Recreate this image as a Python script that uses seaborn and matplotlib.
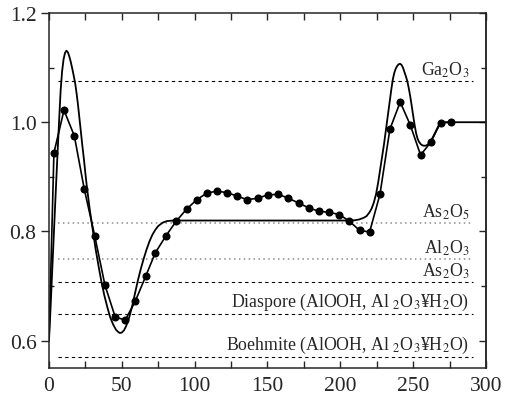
import numpy as np
import pandas as pd
import matplotlib
matplotlib.use('Agg')
import matplotlib.pyplot as plt
from matplotlib.ticker import MultipleLocator
import seaborn as sns

# measured points (dots)
x_pts = [0, 3.4, 10.3, 17.4, 24.2, 31.4, 38.4, 45.5, 52.4, 59.2, 66.4, 73.0, 80.3, 87.4,
         94.5, 101.4, 108.2, 115.3, 122.2, 129.0, 136.1, 143.2, 150.3, 157.4, 164.2,
         171.4, 178.4, 185.3, 192.2, 199.3, 206.1, 213.2, 220.1, 227.2, 234.0, 241.1,
         248.0, 255.1, 262.0, 268.8, 275.9]
y_pts = [0.60, 0.944, 1.022, 0.975, 0.878, 0.792, 0.702, 0.643, 0.638, 0.672, 0.718, 0.761,
         0.792, 0.819, 0.841, 0.858, 0.870, 0.874, 0.871, 0.865, 0.858, 0.861, 0.867,
         0.868, 0.861, 0.852, 0.843, 0.837, 0.835, 0.831, 0.819, 0.802, 0.799, 0.868,
         0.987, 1.037, 0.995, 0.940, 0.963, 0.999, 1.000]

# fitted curve
x_fit = [0, 1, 2, 3, 4, 5, 6, 7, 8, 9, 10, 11, 12, 13, 14, 15, 16, 17, 18, 19, 20, 21,
         22, 23, 24, 25, 26, 28, 30, 32, 34, 36, 38, 40, 42, 44, 46, 47.5, 48.7, 50,
         51.5, 53, 55, 57, 59, 61, 63, 65, 67, 69, 71, 73, 75, 78, 81, 85,
         120, 160, 205, 210, 213, 216, 218, 220, 221.5, 223, 224.5, 226, 228, 230,
         232, 234, 235, 236, 237, 238, 239, 240, 241, 242, 243, 244, 245, 246, 247,
         248, 249, 250, 251, 252, 253, 254, 255.5, 257, 258.5, 260, 262, 264, 266,
         267.5, 269, 271, 300]
y_fit = [0.600, 0.655, 0.715, 0.775, 0.835, 0.893, 0.950, 1.005, 1.058, 1.093, 1.115,
         1.127, 1.131, 1.128, 1.120, 1.110, 1.098, 1.085, 1.071, 1.052, 1.030, 1.005,
         0.980, 0.955, 0.932, 0.906, 0.882, 0.840, 0.804, 0.768, 0.737, 0.708, 0.683,
         0.662, 0.643, 0.630, 0.620, 0.616, 0.614, 0.615, 0.619, 0.627, 0.642, 0.662,
         0.686, 0.710, 0.731, 0.750, 0.767, 0.782, 0.794, 0.803, 0.810, 0.816, 0.819,
         0.820, 0.820, 0.820, 0.820, 0.8205, 0.822, 0.825, 0.828, 0.835, 0.842, 0.853,
         0.868, 0.890, 0.925, 0.960, 1.000, 1.040, 1.060, 1.078, 1.090, 1.098, 1.103,
         1.106, 1.107, 1.105, 1.100, 1.092, 1.084, 1.075, 1.062, 1.047, 1.030, 1.012,
         0.995, 0.980, 0.970, 0.964, 0.959, 0.957, 0.957, 0.959, 0.965, 0.975, 0.986,
         0.994, 0.999, 1.000, 1.000]

# reference levels
ref_names = ['Ga$_2$O$_3$', 'As$_2$O$_5$', 'Al$_2$O$_3$', 'As$_2$O$_3$',
             'Diaspore (AlOOH, Al $_2$O$_3$¥H$_2$O)', 'Boehmite (AlOOH, Al $_2$O$_3$¥H$_2$O)']
ref_vals = [1.076, 0.816, 0.749, 0.707, 0.649, 0.570]
ref_gray = [False, True, True, False, False, False]

sns.set_style('ticks')
plt.rcParams['font.family'] = ['Liberation Serif', 'DejaVu Serif']
plt.rcParams['mathtext.fontset'] = 'stix'

fig = plt.figure(figsize=(5.15, 4.02), dpi=100)
ax = fig.add_axes([0.0951, 0.0821, 0.8486, 0.8831])

for name, v, g in zip(ref_names, ref_vals, ref_gray):
    if g:
        ax.plot([6.5, 291], [v, v], color='#8c8c8c', lw=1.1, ls=(0, (1, 2.2)))
    else:
        ax.plot([6.0, 291], [v, v], color='k', lw=0.8, ls=(0, (3, 3)))
    ax.text(288.5, v + 0.004, name, ha='right', va='bottom', fontsize=12.8)

fit = pd.DataFrame({'x': x_fit, 'y': y_fit})
sns.lineplot(data=fit, x='x', y='y', ax=ax, color='k', lw=1.3, sort=False)

pts = pd.DataFrame({'x': x_pts, 'y': y_pts})
sns.lineplot(data=pts, x='x', y='y', ax=ax, color='k', lw=1.2, sort=False,
             marker='o', markersize=5.8, markeredgewidth=0,
             markevery=list(range(1, len(x_pts))))

ax.set_xlim(0, 300)
ax.set_ylim(0.55, 1.2)
ax.set_xlabel('')
ax.set_ylabel('')
ax.xaxis.set_major_locator(MultipleLocator(50))
ax.xaxis.set_minor_locator(MultipleLocator(25))
ax.yaxis.set_major_locator(MultipleLocator(0.2))
ax.yaxis.set_minor_locator(MultipleLocator(0.1))
ax.yaxis.set_major_formatter(matplotlib.ticker.FormatStrFormatter('%.1f'))

ax.tick_params(axis='x', which='both', direction='in', top=True, bottom=True,
               length=5, width=1, labelsize=15.5, pad=6)
ax.tick_params(axis='y', which='major', direction='out', left=True, right=False,
               length=6, width=1, labelsize=15.5, pad=3)
ax.tick_params(axis='y', which='minor', direction='in', left=True, right=False,
               length=3.5, width=1)
ax2 = ax.secondary_yaxis('right')
ax2.yaxis.set_major_locator(MultipleLocator(0.2))
ax2.yaxis.set_minor_locator(MultipleLocator(0.1))
ax2.tick_params(which='major', direction='in', length=5, width=1, labelright=False)
ax2.tick_params(which='minor', direction='in', length=3.5, width=1)
ax2.spines['right'].set_linewidth(1.1)

for s in ax.spines.values():
    s.set_linewidth(1.1)
    s.set_visible(True)

fig.savefig('out.png', dpi=100)
